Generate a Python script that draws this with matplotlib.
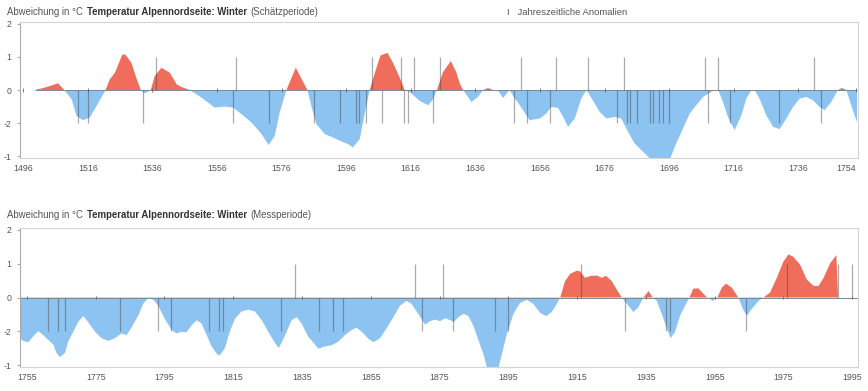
import numpy as np
import matplotlib
matplotlib.use("Agg")
import matplotlib.pyplot as plt

plt.rcParams['font.family'] = ['Liberation Sans', 'DejaVu Sans']

# smoothed winter anomaly, estimation period (year, deg C)
top_years = [1499.6, 1503, 1506.8, 1508.7, 1511, 1512.5, 1514.5, 1516.6, 1518.7, 1521.5,
             1522.8, 1524.4, 1526.6, 1527.5, 1529.5, 1531, 1532.4, 1533.6, 1535.5, 1536.7,
             1538.8, 1541.4, 1543.5, 1545, 1547.6, 1551.2, 1555.3, 1558.4, 1561, 1563.6,
             1566.7, 1569.8, 1572, 1573.9, 1575.4, 1577.5, 1580.4, 1584, 1585.2, 1586.8,
             1589.4, 1591.9, 1594, 1596.6, 1598.1, 1600.2, 1601.8, 1603.3, 1604.9, 1606.6,
             1608.8, 1610.5, 1612.6, 1614.1, 1615.7, 1618.8, 1621.4, 1622.9, 1624.1, 1626,
             1628.4, 1630.1, 1631.2, 1632.2, 1634.8, 1636.8, 1638.4, 1639.9, 1641.5, 1643,
             1644.6, 1646.6, 1648.2, 1648.9, 1650.8, 1652.8, 1655.9, 1658, 1659.5, 1661.6,
             1663.2, 1664.7, 1666.8, 1668.8, 1670.4, 1672.4, 1674.5, 1676.6, 1679.2, 1681.2,
             1683.3, 1685.3, 1687.9, 1690.5, 1696.2, 1698.2, 1700.3, 1702.4, 1704.4, 1706.5,
             1708.6, 1710.1, 1711.2, 1712.7, 1714.2, 1716.3, 1718.4, 1719.9, 1721.5, 1722.5,
             1724.0, 1726.1, 1728.2, 1730.2, 1732.3, 1734.4, 1736.4, 1738.5, 1740.6, 1742.6,
             1744.2, 1746.2, 1748.3, 1749.5, 1750.9, 1752.4, 1754.2]
top_vals = [0, 0.08, 0.20, 0, -0.28, -0.78, -0.91, -0.83, -0.48, 0,
            0.32, 0.52, 1.05, 1.08, 0.82, 0.37, 0, -0.10, 0, 0.42,
            0.67, 0.52, 0.17, 0.09, 0, -0.23, -0.53, -0.50, -0.53, -0.73,
            -0.98, -1.33, -1.66, -1.38, -0.68, 0, 0.67, 0, -0.48, -1.03,
            -1.33, -1.43, -1.53, -1.63, -1.73, -1.48, -0.68, 0, 0.52, 1.04,
            1.12, 0.82, 0.37, 0, -0.06, -0.33, -0.46, -0.28, 0, 0.54,
            0.87, 0.54, 0.19, 0, -0.36, -0.21, 0, 0.06, 0, -0.02,
            -0.24, 0, -0.26, -0.34, -0.61, -0.91, -0.86, -0.71, -0.51, -0.54,
            -0.81, -1.11, -0.86, -0.26, 0, -0.31, -0.66, -0.86, -0.81, -0.86,
            -1.26, -1.61, -1.86, -2.1, -2.1, -1.61, -1.16, -0.71, -0.46, -0.21,
            -0.08, 0, 0, -0.36, -0.81, -1.21, -0.76, -0.26, 0, 0,
            -0.26, -0.76, -1.11, -1.18, -0.86, -0.51, -0.26, -0.21, -0.31, -0.51,
            -0.61, -0.36, 0, 0.06, 0, -0.46, -0.98]
top_warm = [1537, 1562, 1604, 1613, 1617, 1625, 1650, 1661, 1671, 1682, 1707, 1711, 1741]
top_cold = [1513, 1516, 1533, 1561, 1572, 1586, 1594, 1599, 1600, 1602, 1607, 1614, 1615,
            1623, 1648, 1652, 1659, 1680, 1683, 1684, 1686, 1690, 1691, 1693, 1694, 1696,
            1708, 1715, 1730, 1743]
top_ticks = [1496, 1516, 1536, 1556, 1576, 1596, 1616, 1636, 1656, 1676, 1696, 1716, 1736, 1754]

# smoothed winter anomaly, measurement period
bot_years = [1753.0, 1753.9, 1755.4, 1756.8, 1758.3, 1759.8, 1761.2, 1762.7, 1763.6, 1764.6,
             1766.1, 1767.0, 1768.5, 1769.9, 1771.4, 1772.8, 1774.8, 1776.7, 1778.7, 1780.6,
             1782.5, 1784.0, 1785.5, 1787.4, 1788.8, 1790.3, 1791.8, 1793.2, 1795.1, 1797.1,
             1798.5, 1800.0, 1801.4, 1802.9, 1804.4, 1805.8, 1807.3, 1808.7, 1810.2, 1811.1,
             1812.6, 1814.0, 1815.5, 1817.4, 1819.4, 1821.3, 1823.3, 1825.2, 1827.2, 1828.3,
             1830.1, 1832.0, 1833.5, 1834.9, 1836.8, 1838.8, 1839.8, 1841.7, 1843.6, 1845.6,
             1847.5, 1849.4, 1850.9, 1852.9, 1854.3, 1855.8, 1857.7, 1859.6, 1861.6, 1863.5,
             1865.4, 1866.9, 1868.8, 1870.8, 1872.2, 1873.7, 1875.2, 1876.6, 1878.1, 1879.2,
             1880.5, 1882.0, 1883.4, 1884.8, 1886.3, 1887.8, 1888.9, 1892.1, 1893.1, 1894.5,
             1896.5, 1898.4, 1900.4, 1902.3, 1904.2, 1906.0, 1907.6, 1909.1, 1910.1, 1911.5,
             1913.0, 1914.9, 1915.9, 1917.3, 1918.8, 1920.7, 1922.2, 1923.4, 1925.1, 1926.5,
             1928.0, 1929.5, 1931.4, 1932.8, 1934.3, 1935.8, 1937.0, 1938.2, 1939.6, 1941.1,
             1942.2, 1943.5, 1945.0, 1946.4, 1947.7, 1948.8, 1950.3, 1951.8, 1952.9, 1954.5,
             1955.8, 1957.1, 1958.3, 1960.0, 1961.9, 1963.4, 1964.4, 1965.8, 1967.8, 1969.2,
             1971.1, 1973.1, 1975.0, 1976.5, 1977.9, 1979.9, 1981.8, 1983.8, 1985.2, 1986.7,
             1988.6, 1990.4, 1990.9]
bot_vals = [-1.20, -1.28, -1.32, -1.15, -0.99, -1.11, -1.25, -1.39, -1.63, -1.76,
            -1.63, -1.30, -1.01, -0.72, -0.55, -0.72, -1.01, -1.20, -1.28, -1.20,
            -1.06, -1.11, -0.87, -0.53, -0.19, -0.01, -0.07, -0.24, -0.63, -0.96,
            -1.06, -1.01, -1.03, -0.82, -0.67, -0.77, -1.11, -1.44, -1.66, -1.71,
            -1.49, -1.01, -0.63, -0.41, -0.36, -0.41, -0.67, -1.01, -1.35, -1.49,
            -1.11, -0.67, -0.58, -0.77, -1.15, -1.39, -1.51, -1.44, -1.41, -1.30,
            -1.11, -0.96, -0.89, -1.06, -1.22, -1.32, -1.20, -0.91, -0.58, -0.24,
            -0.10, -0.19, -0.48, -0.80, -0.70, -0.65, -0.70, -0.61, -0.67, -0.72,
            -0.58, -0.48, -0.55, -0.82, -1.25, -1.68, -2.1, -2.1, -1.68, -1.11,
            -0.48, -0.16, -0.07, -0.19, -0.45, -0.55, -0.43, -0.19, 0, 0.48,
            0.70, 0.79, 0.77, 0.58, 0.63, 0.65, 0.58, 0.64, 0.48, 0.24,
            0, -0.19, -0.43, -0.29, 0, 0.19, 0, -0.10, -0.48, -0.91,
            -1.20, -1.01, -0.53, -0.24, 0, 0.26, 0.27, 0.10, 0, -0.10,
            0, 0.29, 0.41, 0.29, 0, -0.38, -0.53, -0.34, -0.10, 0,
            0.14, 0.58, 1.06, 1.27, 1.20, 0.96, 0.53, 0.34, 0.34, 0.58,
            1.01, 1.25, 0]
bot_warm = [1833, 1868, 1876, 1916, 1976, 1991, 1995]
bot_cold = [1753, 1761, 1764, 1766, 1782, 1793, 1797, 1808, 1811, 1812, 1829, 1840, 1844,
            1847, 1870, 1879, 1891, 1895, 1929, 1941, 1942, 1964]
bot_ticks = [1755, 1775, 1795, 1815, 1835, 1855, 1875, 1895, 1915, 1935, 1955, 1975, 1995]

y_ticks = [2, 1, 0, -1, -2]
y_labels = ['2', '1', '0', '-2', '-1']

red = '#EF6D5A'
blue = '#8DC3F1'
txt = '#555555'

fig = plt.figure(figsize=(8.68, 3.91), dpi=100)


def panel(rect, years, vals, warm, cold, ticks, xlim, full_base):
    ax = fig.add_axes(rect)
    x = np.array(years)
    y = np.array(vals)
    ax.fill_between(x, y, 0, where=y >= 0, interpolate=True, color=red, lw=0)
    ax.fill_between(x, y, 0, where=y <= 0, interpolate=True, color=blue, lw=0)
    if full_base:
        ax.hlines(0, xlim[0], xlim[1], color='#7a8a99', lw=0.7)
    else:
        ax.hlines(0, x[0], x[-1], color='#7a8a99', lw=0.7)
    ax.vlines(warm, 0, 1, color='#444444', alpha=0.45, lw=0.9)
    ax.vlines(cold, -1, 0, color='#444444', alpha=0.45, lw=0.9)
    ax.vlines(ticks, -0.05, 0.05, color='#666666', lw=0.6)
    ax.set_xlim(xlim)
    ax.set_ylim(-2.05, 2.05)
    ax.set_xticks(ticks)
    ax.set_xticklabels([str(t) for t in ticks])
    ax.set_yticks(y_ticks)
    ax.set_yticklabels(y_labels)
    ax.tick_params(axis='x', length=0, pad=4, labelsize=6.3, labelcolor=txt)
    ax.tick_params(axis='y', length=2, pad=4, labelsize=6.3, labelcolor=txt, color='#aaaaaa')
    for s in ['top', 'right', 'bottom']:
        ax.spines[s].set_color('#d4d4d4')
        ax.spines[s].set_linewidth(0.8)
    ax.spines['left'].set_color('#aaaaaa')
    ax.spines['left'].set_linewidth(0.8)
    return ax


ax1 = panel([20 / 868, 1 - 158 / 391, 838 / 868, 136 / 391], top_years, top_vals,
            top_warm, top_cold, top_ticks, (1495, 1754.5), False)
ax2 = panel([20 / 868, 1 - 367 / 391, 838 / 868, 139 / 391], bot_years, bot_vals,
            bot_warm, bot_cold, bot_ticks, (1753, 1996.7), True)

# last label of the upper panel sits inside the frame
ax1.get_xticklabels()[-1].set_horizontalalignment('right')


def title(ypix, period):
    t1 = fig.text(7 / 868, 1 - ypix / 391, 'Abweichung in °C', fontsize=6.9,
                  color=txt, va='baseline')
    t2 = ax1.annotate('Temperatur Alpennordseite: Winter', xy=(1, 0), xycoords=t1,
                      xytext=(3, 0), textcoords='offset points', fontsize=6.9,
                      fontweight='bold', color='#333333', va='bottom', annotation_clip=False)
    ax1.annotate(period, xy=(1, 0), xycoords=t2, xytext=(2, 0), textcoords='offset points',
                 fontsize=6.9, color=txt, va='bottom', annotation_clip=False)


title(15, '(Schätzperiode)')
title(218, '(Messperiode)')
fig.text(507 / 868, 1 - 15 / 391, 'I   Jahreszeitliche Anomalien', fontsize=6.8,
         color=txt, va='baseline')

fig.savefig('out.png', dpi=100)
